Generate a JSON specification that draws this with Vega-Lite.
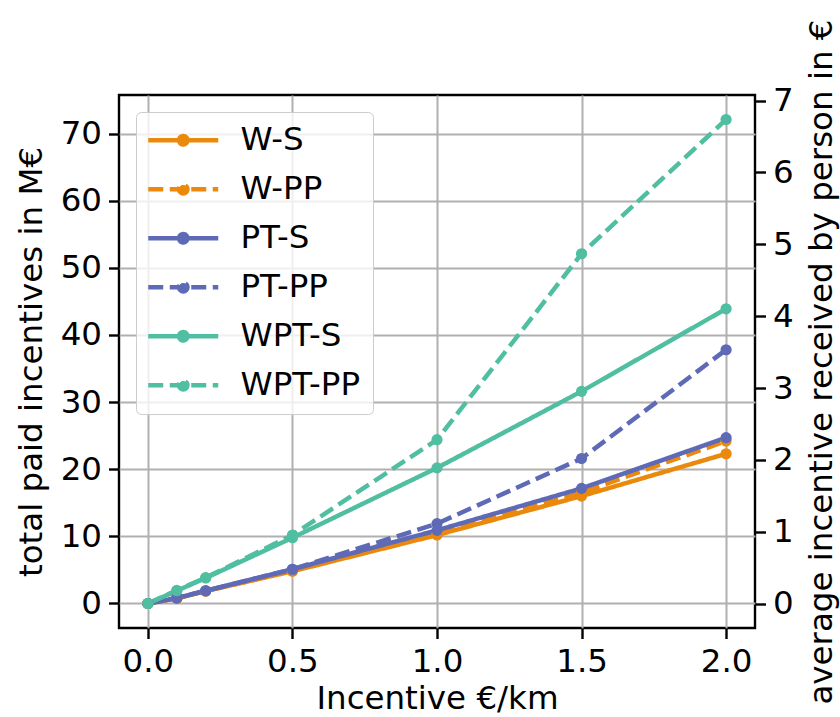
{
  "$schema": "https://vega.github.io/schema/vega-lite/v6.json",
  "width": 636,
  "height": 533,
  "autosize": {"type": "none"},
  "padding": {"left": 119, "top": 95, "right": 85, "bottom": 89},
  "background": "white",
  "config": {
    "font": "DejaVu Sans",
    "view": {"stroke": "black", "strokeWidth": 2.4},
    "axis": {
      "labelFont": "DejaVu Sans", "labelFontSize": 32.5, "labelColor": "black",
      "titleFont": "DejaVu Sans", "titleFontSize": 32.5, "titleFontWeight": "normal", "titleColor": "black",
      "tickColor": "black", "tickWidth": 2.4, "tickSize": 10.5, "domain": false,
      "gridColor": "#b0b0b0", "gridWidth": 2, "labelPadding": 7, "titlePadding": 12
    }
  },
  "data": {"values": [
    {"x": 0, "series": "W-S", "total": 0, "avg": 0},
    {"x": 0.1, "series": "W-S", "total": 0.75, "avg": 0.07},
    {"x": 0.2, "series": "W-S", "total": 1.85, "avg": 0.17},
    {"x": 0.5, "series": "W-S", "total": 4.8, "avg": 0.45},
    {"x": 1.0, "series": "W-S", "total": 10.2, "avg": 0.95},
    {"x": 1.5, "series": "W-S", "total": 16.0, "avg": 1.49},
    {"x": 2.0, "series": "W-S", "total": 22.3, "avg": 2.08},
    {"x": 0, "series": "W-PP", "total": 0, "avg": 0},
    {"x": 0.1, "series": "W-PP", "total": 0.8, "avg": 0.07},
    {"x": 0.2, "series": "W-PP", "total": 1.85, "avg": 0.17},
    {"x": 0.5, "series": "W-PP", "total": 4.9, "avg": 0.46},
    {"x": 1.0, "series": "W-PP", "total": 10.4, "avg": 0.97},
    {"x": 1.5, "series": "W-PP", "total": 16.5, "avg": 1.54},
    {"x": 2.0, "series": "W-PP", "total": 24.2, "avg": 2.26},
    {"x": 0, "series": "PT-S", "total": 0, "avg": 0},
    {"x": 0.1, "series": "PT-S", "total": 0.8, "avg": 0.07},
    {"x": 0.2, "series": "PT-S", "total": 1.9, "avg": 0.18},
    {"x": 0.5, "series": "PT-S", "total": 5.1, "avg": 0.48},
    {"x": 1.0, "series": "PT-S", "total": 10.9, "avg": 1.02},
    {"x": 1.5, "series": "PT-S", "total": 17.15, "avg": 1.6},
    {"x": 2.0, "series": "PT-S", "total": 24.7, "avg": 2.3},
    {"x": 0, "series": "PT-PP", "total": 0, "avg": 0},
    {"x": 0.1, "series": "PT-PP", "total": 0.85, "avg": 0.08},
    {"x": 0.2, "series": "PT-PP", "total": 1.9, "avg": 0.18},
    {"x": 0.5, "series": "PT-PP", "total": 5.1, "avg": 0.48},
    {"x": 1.0, "series": "PT-PP", "total": 11.9, "avg": 1.11},
    {"x": 1.5, "series": "PT-PP", "total": 21.6, "avg": 2.01},
    {"x": 2.0, "series": "PT-PP", "total": 37.8, "avg": 3.53},
    {"x": 0, "series": "WPT-S", "total": 0, "avg": 0},
    {"x": 0.1, "series": "WPT-S", "total": 1.9, "avg": 0.18},
    {"x": 0.2, "series": "WPT-S", "total": 3.8, "avg": 0.35},
    {"x": 0.5, "series": "WPT-S", "total": 9.8, "avg": 0.91},
    {"x": 1.0, "series": "WPT-S", "total": 20.2, "avg": 1.88},
    {"x": 1.5, "series": "WPT-S", "total": 31.6, "avg": 2.95},
    {"x": 2.0, "series": "WPT-S", "total": 43.9, "avg": 4.1},
    {"x": 0, "series": "WPT-PP", "total": 0, "avg": 0},
    {"x": 0.1, "series": "WPT-PP", "total": 1.95, "avg": 0.18},
    {"x": 0.2, "series": "WPT-PP", "total": 3.85, "avg": 0.36},
    {"x": 0.5, "series": "WPT-PP", "total": 10.2, "avg": 0.95},
    {"x": 1.0, "series": "WPT-PP", "total": 24.4, "avg": 2.28},
    {"x": 1.5, "series": "WPT-PP", "total": 52.1, "avg": 4.86},
    {"x": 2.0, "series": "WPT-PP", "total": 72.1, "avg": 6.73}
  ]},
  "layer": [
    {
      "mark": {"type": "line", "strokeWidth": 4.5, "point": {"filled": true, "size": 125, "opacity": 1}},
      "encoding": {
        "x": {"field": "x", "type": "quantitative",
              "scale": {"domain": [-0.1, 2.1], "nice": false, "zero": false},
              "axis": {"values": [0, 0.5, 1, 1.5, 2], "format": ".1f", "title": "Incentive €/km", "grid": true, "titlePadding": 4}},
        "y": {"field": "total", "type": "quantitative",
              "scale": {"domain": [-3.65, 75.75], "nice": false, "zero": false},
              "axis": {"values": [0, 10, 20, 30, 40, 50, 60, 70], "title": "total paid incentives in M€", "grid": true, "titlePadding": 12}},
        "color": {"field": "series", "type": "nominal",
                  "scale": {"domain": ["W-S", "W-PP", "PT-S", "PT-PP", "WPT-S", "WPT-PP"],
                            "range": ["#ea890c", "#ea890c", "#5e6ab6", "#5e6ab6", "#50bea0", "#50bea0"]},
                  "legend": {
                    "title": null, "orient": "top-left", "offset": 17, "padding": 12,
                    "fillColor": "rgba(255,255,255,0.8)", "strokeColor": "#cccccc", "cornerRadius": 5,
                    "labelFont": "DejaVu Sans", "labelFontSize": 32.5, "labelColor": "black",
                    "symbolSize": 400, "symbolStrokeWidth": 4.5, "symbolOffset": 19, "labelOffset": 41, "rowPadding": 16,
                    "symbolType": "M-3.5,0H3.5M0.42,0A0.42,0.42,0,1,1,-0.42,0A0.42,0.42,0,1,1,0.42,0M0.15,0A0.15,0.15,0,1,1,-0.15,0A0.15,0.15,0,1,1,0.15,0",
                    "encode": {"symbols": {"update": {
                      "shape": {"signal": "indexof(datum.value, 'PP') >= 0 ? 'M-3.5,0H-2M-1.35,0H0.15M0.8,0H2.3M2.95,0H3.5M0.42,0A0.42,0.42,0,1,1,-0.42,0A0.42,0.42,0,1,1,0.42,0M0.15,0A0.15,0.15,0,1,1,-0.15,0A0.15,0.15,0,1,1,0.15,0' : 'M-3.5,0H3.5M0.42,0A0.42,0.42,0,1,1,-0.42,0A0.42,0.42,0,1,1,0.42,0M0.15,0A0.15,0.15,0,1,1,-0.15,0A0.15,0.15,0,1,1,0.15,0'"},
                      "strokeDash": {"value": [1, 0]}
                    }}}
                  }},
        "strokeDash": {"field": "series", "type": "nominal",
                       "scale": {"domain": ["W-S", "W-PP", "PT-S", "PT-PP", "WPT-S", "WPT-PP"],
                                 "range": [[1, 0], [15, 6.5], [1, 0], [15, 6.5], [1, 0], [15, 6.5]]},
                       "legend": null}
      }
    },
    {
      "mark": {"type": "point", "opacity": 0},
      "encoding": {
        "x": {"field": "x", "type": "quantitative"},
        "y": {"field": "avg", "type": "quantitative",
              "scale": {"domain": [-0.337, 7.077], "nice": false, "zero": false},
              "axis": {"orient": "right", "values": [0, 1, 2, 3, 4, 5, 6, 7], "title": "average incentive received by person in €", "grid": false, "titleAngle": -90, "titleBaseline": "top", "titlePadding": 12}}
      }
    }
  ],
  "resolve": {"scale": {"y": "independent"}}
}
